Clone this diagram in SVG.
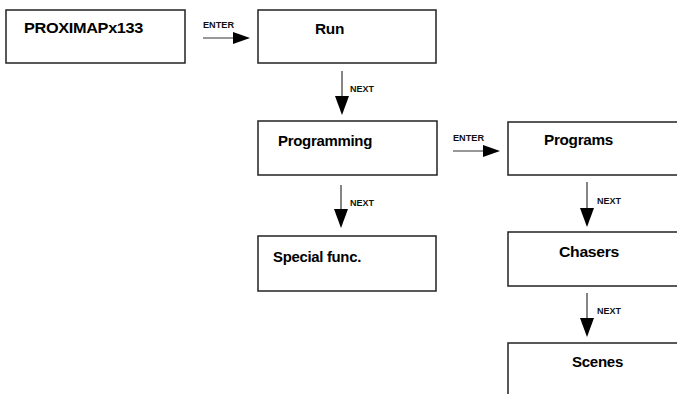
<svg xmlns="http://www.w3.org/2000/svg" width="677" height="394" viewBox="0 0 677 394">
<style>
.box{fill:#fff;stroke:#222;stroke-width:1.5}
.t{font-family:"Liberation Sans",Arial,sans-serif;font-weight:bold;font-size:15px;fill:#000;letter-spacing:-0.3px}
.s{font-family:"Liberation Sans",Arial,sans-serif;font-weight:bold;font-size:8.5px;fill:#111}
.ln{stroke:#333;stroke-width:1.2;fill:none}
.hd{fill:#000}
</style>
<rect width="677" height="394" fill="#fff"/>
<g id="proxima"><rect class="box" x="6" y="10" width="179" height="53"/><text class="t" x="24" y="33" textLength="119" lengthAdjust="spacingAndGlyphs">PROXIMAPx133</text></g>
<g id="run"><rect class="box" x="258" y="10" width="178" height="53"/><text class="t" x="315" y="34" textLength="29" lengthAdjust="spacingAndGlyphs">Run</text></g>
<g id="programming"><rect class="box" x="258" y="121" width="179" height="54"/><text class="t" x="278" y="146" textLength="94" lengthAdjust="spacingAndGlyphs">Programming</text></g>
<g id="special"><rect class="box" x="258" y="236" width="178" height="55"/><text class="t" x="273" y="262" textLength="88" lengthAdjust="spacingAndGlyphs">Special func.</text></g>
<g id="programs"><rect class="box" x="508" y="122" width="200" height="53"/><text class="t" x="544" y="145" textLength="69" lengthAdjust="spacingAndGlyphs">Programs</text></g>
<g id="chasers"><rect class="box" x="508" y="232" width="200" height="54"/><text class="t" x="559" y="257" textLength="60" lengthAdjust="spacingAndGlyphs">Chasers</text></g>
<g id="scenes"><rect class="box" x="508" y="343" width="200" height="80"/><text class="t" x="572" y="367" textLength="51" lengthAdjust="spacingAndGlyphs">Scenes</text></g>
<g id="connectors">
<line class="ln" x1="203" y1="38" x2="236" y2="38"/><polygon class="hd" points="233,32 250,38 233,44"/>
<text class="s" x="203" y="28" textLength="31" lengthAdjust="spacingAndGlyphs">ENTER</text>
<line class="ln" x1="453" y1="151" x2="486" y2="151"/><polygon class="hd" points="483,145 500,151 483,157"/>
<text class="s" x="453" y="141" textLength="31" lengthAdjust="spacingAndGlyphs">ENTER</text>
<line class="ln" x1="342" y1="71" x2="342" y2="99"/><polygon class="hd" points="335,96 349,96 342,115"/>
<text class="s" x="350" y="92" textLength="24" lengthAdjust="spacingAndGlyphs">NEXT</text>
<line class="ln" x1="341" y1="185" x2="341" y2="212"/><polygon class="hd" points="334,209 348,209 341,228"/>
<text class="s" x="350" y="206" textLength="24" lengthAdjust="spacingAndGlyphs">NEXT</text>
<line class="ln" x1="587" y1="182" x2="587" y2="211"/><polygon class="hd" points="580,208 594,208 587,227"/>
<text class="s" x="597" y="204" textLength="24" lengthAdjust="spacingAndGlyphs">NEXT</text>
<line class="ln" x1="587" y1="293" x2="587" y2="321"/><polygon class="hd" points="580,318 594,318 587,337"/>
<text class="s" x="597" y="314" textLength="24" lengthAdjust="spacingAndGlyphs">NEXT</text>
</g>
</svg>
